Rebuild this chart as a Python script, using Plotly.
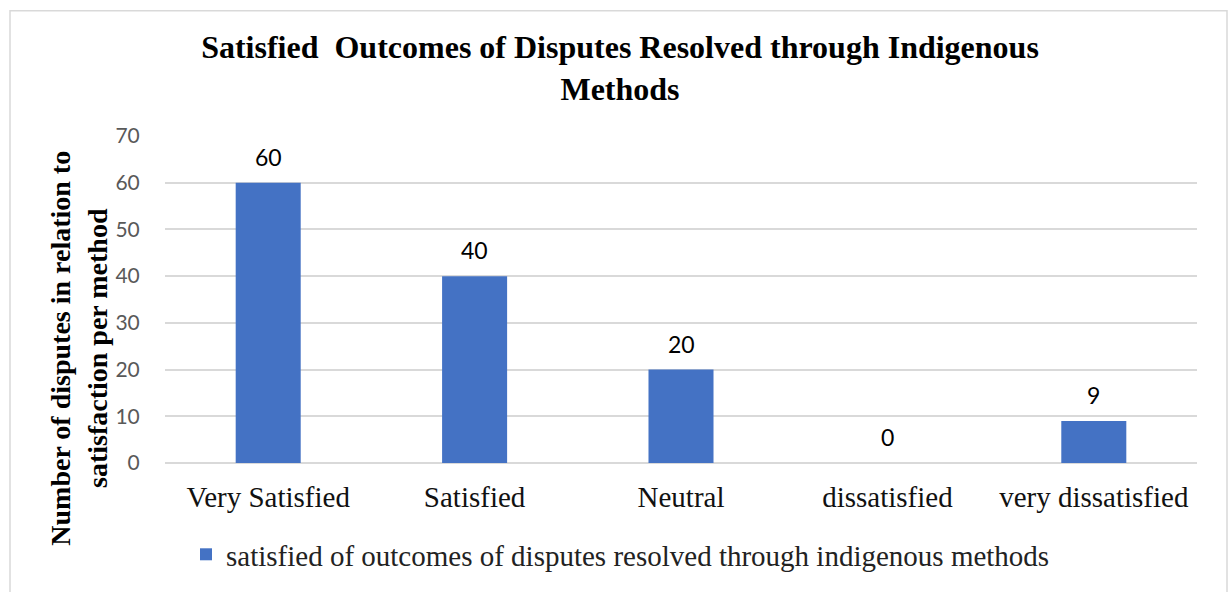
import plotly.graph_objects as go

# Survey responses per satisfaction level
categories = ["Very Satisfied", "Satisfied", "Neutral", "dissatisfied", "very dissatisfied"]
values = [60, 40, 20, 0, 9]
series_name = "satisfied of outcomes of disputes resolved through indigenous methods"
y_ticks = [0, 10, 20, 30, 40, 50, 60, 70]

BAR_COLOR = "#4472C4"
GRID_COLOR = "#d9d9d9"
SERIF = "Liberation Serif, Times New Roman, serif"
SANS = "Lato, Carlito, Calibri, sans-serif"

W, H = 1230, 592
ML, MR, MT, MB = 165, 33, 136, 127
plot_w = W - ML - MR
plot_h = H - MT - MB


def px_x(px):
    return (px - ML) / plot_w


def px_y(py):
    return (H - MB - py) / plot_h


fig = go.Figure()
fig.add_trace(go.Bar(
    x=categories,
    y=values,
    name=series_name,
    marker=dict(color=BAR_COLOR, line=dict(width=0)),
    showlegend=True,
))

# value labels above each bar
for c, v in zip(categories, values):
    fig.add_annotation(
        x=c, y=v, xref="x", yref="y",
        text=str(v), showarrow=False,
        yanchor="bottom", yshift=10,
        font=dict(family=SANS, size=23, color="#000000"),
    )

# y-axis title
fig.add_annotation(
    xref="paper", yref="paper",
    x=px_x(79), y=px_y(350),
    text="<b>Number of disputes in relation to<br>satisfaction per method</b>",
    textangle=-90, showarrow=False,
    xanchor="center", yanchor="middle",
    font=dict(family=SERIF, size=28, color="#000000"),
)

# outer chart border
fig.add_shape(
    type="rect", xref="paper", yref="paper",
    x0=px_x(10), x1=px_x(1227), y0=px_y(620), y1=px_y(10),
    line=dict(color=GRID_COLOR, width=1.5), fillcolor="rgba(0,0,0,0)",
    layer="below",
)

fig.update_layout(
    width=W, height=H,
    margin=dict(l=ML, r=MR, t=MT, b=MB),
    paper_bgcolor="white",
    plot_bgcolor="white",
    bargap=0.685,
    title=dict(
        text="<b>Satisfied  Outcomes of Disputes Resolved through Indigenous<br>Methods</b>",
        x=620 / W, xanchor="center",
        y=1 - 58 / H, yanchor="top",
        font=dict(family=SERIF, size=32, color="#000000"),
    ),
    legend=dict(
        orientation="h",
        x=px_x(186), y=px_y(557),
        xanchor="left", yanchor="middle",
        font=dict(family=SERIF, size=29, color="#222222"),
        itemwidth=30,
        bgcolor="rgba(0,0,0,0)",
    ),
    xaxis=dict(
        showgrid=False,
        showline=False,
        zeroline=False,
        ticks="outside", ticklen=8, tickcolor="rgba(0,0,0,0)",
        tickfont=dict(family=SERIF, size=29, color="#111111"),
    ),
    yaxis=dict(
        range=[0, 70],
        tickvals=y_ticks,
        showgrid=True, gridcolor=GRID_COLOR, gridwidth=1.5,
        zeroline=True, zerolinecolor=GRID_COLOR, zerolinewidth=1.5,
        showline=False,
        ticks="outside", ticklen=20, tickcolor="rgba(0,0,0,0)",
        tickfont=dict(family=SANS, size=21, color="#595959"),
    ),
)

fig.write_html("out.html")
